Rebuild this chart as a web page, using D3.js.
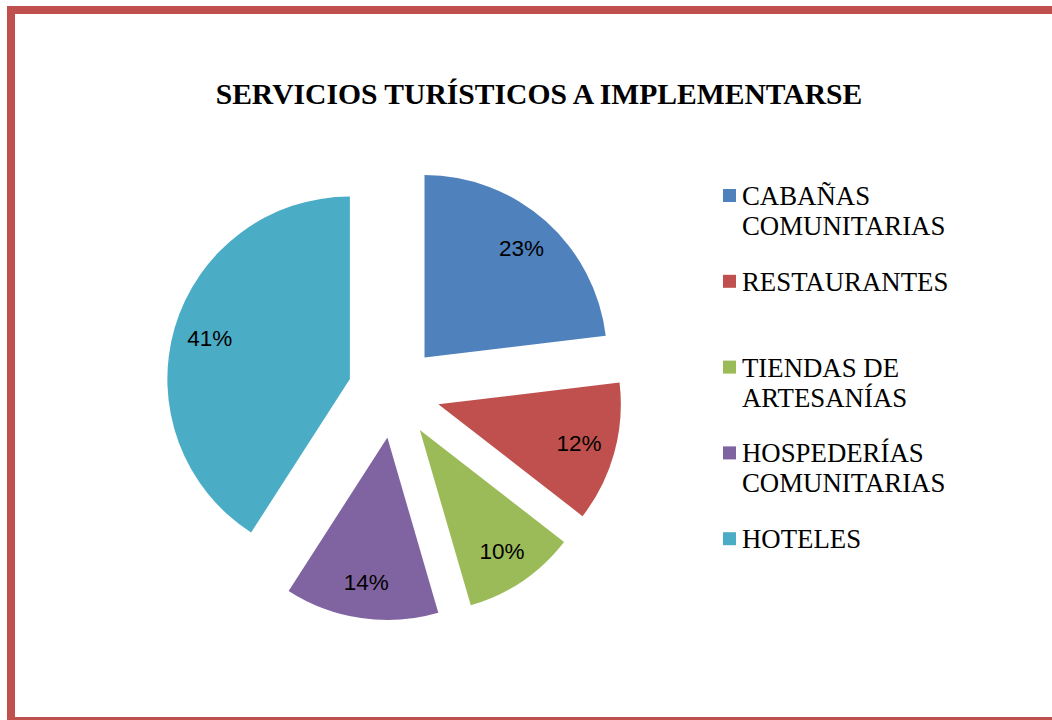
<!DOCTYPE html>
<html><head><meta charset="utf-8">
<script src="https://cdn.jsdelivr.net/npm/d3@7"></script>
<style>html,body{margin:0;padding:0;background:#fff;overflow:hidden}</style>
</head><body>
<svg id="c" width="1052" height="720"></svg>
<script>
const categories = ["CABAÑAS COMUNITARIAS","RESTAURANTES","TIENDAS DE ARTESANÍAS","HOSPEDERÍAS COMUNITARIAS","HOTELES"];
const legendLines = [["CABAÑAS","COMUNITARIAS"],["RESTAURANTES"],["TIENDAS DE","ARTESANÍAS"],["HOSPEDERÍAS","COMUNITARIAS"],["HOTELES"]];
const values = [23.1,12.4,10.0,13.6,40.9];
const colors = ["#4F81BD","#C0504D","#9BBB59","#8064A2","#4BACC6"];
const title = "SERVICIOS TURÍSTICOS A IMPLEMENTARSE";

const total = d3.sum(values);
const fmt = d3.format(".0%");

const svg = d3.select("#c");
svg.append("rect").attr("x",11).attr("y",10).attr("width",1100).attr("height",711)
  .attr("fill","none").attr("stroke","#C0504D").attr("stroke-width",8);

svg.append("text").attr("x",539).attr("y",104).attr("text-anchor","middle")
  .attr("font-family","'Liberation Serif','Times New Roman',serif").attr("font-weight","bold")
  .attr("font-size",29.6).attr("fill","#000").text(title);

const cx=394, cy=392, R=182.5, explode=46;
const pie = d3.pie().sort(null).value(d=>d)(values);
const arc = d3.arc().innerRadius(0).outerRadius(R);
const g = svg.append("g").attr("transform",`translate(${cx},${cy})`);
const sl = g.selectAll("g.s").data(pie).enter().append("g").attr("class","s")
  .attr("transform",d=>{const a=(d.startAngle+d.endAngle)/2;return `translate(${explode*Math.sin(a)},${-explode*Math.cos(a)})`;});
sl.append("path").attr("d",arc).attr("fill",(d,i)=>colors[i]);
const lab = d3.arc().innerRadius(146).outerRadius(146);
sl.append("text").attr("transform",d=>`translate(${lab.centroid(d)})`)
  .attr("text-anchor","middle").attr("dy","0.36em")
  .attr("font-family","'Liberation Sans',Arial,sans-serif").attr("font-size",22.5)
  .attr("fill","#000").text(d=>fmt(d.data/total));

const lg = svg.append("g");
const items = lg.selectAll("g").data(legendLines).enter().append("g")
  .attr("transform",(d,i)=>`translate(723,${205+i*85.8})`);
items.append("rect").attr("x",0).attr("y",-16).attr("width",13).attr("height",13).attr("fill",(d,i)=>colors[i]);
items.append("text").attr("font-family","'Liberation Serif','Times New Roman',serif").attr("font-size",26.8).attr("fill","#000")
  .selectAll("tspan").data(d=>d).enter().append("tspan").attr("x",19).attr("y",(d,j)=>j*30).text(d=>d);
</script>
</body></html>
